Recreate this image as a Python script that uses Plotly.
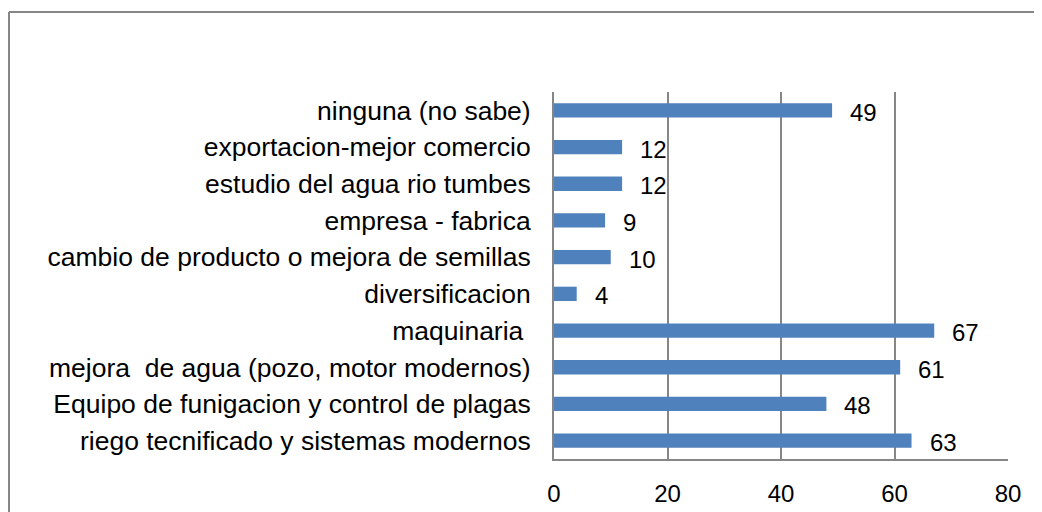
import plotly.graph_objects as go

categories = [
    "riego tecnificado y sistemas modernos",
    "Equipo de funigacion y control de plagas",
    "mejora  de agua (pozo, motor modernos)",
    "maquinaria ",
    "diversificacion",
    "cambio de producto o mejora de semillas",
    "empresa - fabrica",
    "estudio del agua rio tumbes",
    "exportacion-mejor comercio",
    "ninguna (no sabe)",
]
values = [63, 48, 61, 67, 4, 10, 9, 12, 12, 49]
x_ticks = [0, 20, 40, 60, 80]

# page body adds an 8px offset; margins are compensated for it
OFF = 8
W, H = 1042, 512
L, T = 554 - OFF, 92 - OFF
pw, ph = 454, 367
R, B = W - L - pw, H - T - ph

FONT = "Liberation Sans, Arial, sans-serif"
GRID = "#868686"

fig = go.Figure(
    go.Bar(
        x=values,
        y=categories,
        orientation="h",
        marker=dict(color="#4F81BD", line=dict(width=0)),
        width=0.39,
        hoverinfo="x+y",
    )
)

for c, v in zip(categories, values):
    fig.add_annotation(
        x=v, y=c, text=str(v), showarrow=False,
        xanchor="left", yanchor="middle", xshift=16, yshift=-2,
        font=dict(family=FONT, size=24, color="#000000"),
    )

# outer chart frame (top and left edges visible)
fx = (9 - OFF - L) / pw
fy = (T + ph - (12 - OFF)) / ph
fig.add_shape(type="line", xref="paper", yref="paper",
              x0=fx, x1=(W + 20 - L) / pw, y0=fy, y1=fy,
              line=dict(color=GRID, width=2))
fig.add_shape(type="line", xref="paper", yref="paper",
              x0=fx, x1=fx, y0=fy, y1=-(B + 20) / ph,
              line=dict(color=GRID, width=2))

fig.update_layout(
    width=W, height=H,
    margin=dict(l=L, r=R, t=T, b=B, pad=0, autoexpand=False),
    paper_bgcolor="white", plot_bgcolor="white",
    showlegend=False,
    font=dict(family=FONT, color="#000000"),
    xaxis=dict(
        range=[0, 80], tickvals=x_ticks, ticktext=[str(t) for t in x_ticks],
        showgrid=True, gridcolor=GRID, gridwidth=2,
        zeroline=False, showline=True, linecolor=GRID, linewidth=2,
        ticks="", ticklabelstandoff=12, automargin=False,
        tickfont=dict(family=FONT, size=24, color="#000000"),
        fixedrange=True,
    ),
    yaxis=dict(
        categoryorder="array", categoryarray=categories,
        range=[-0.5, len(categories) - 0.5],
        showgrid=False, zeroline=False, showline=True, linecolor=GRID, linewidth=2,
        ticks="", ticklabelstandoff=16, automargin=False,
        tickfont=dict(family=FONT, size=26.5, color="#000000"),
        fixedrange=True,
    ),
)

fig.write_html("out.html")
